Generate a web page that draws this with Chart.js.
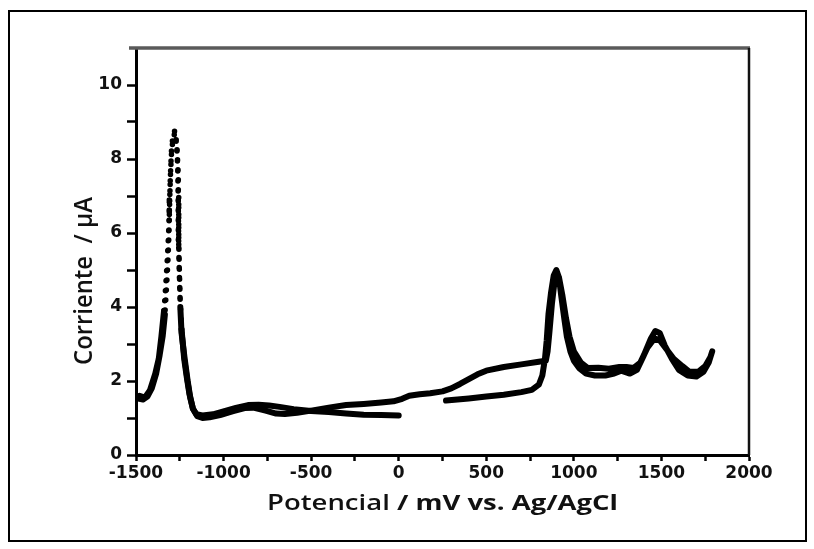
<!DOCTYPE html>
<html>
<head>
<meta charset="utf-8">
<script src="https://cdn.jsdelivr.net/npm/chart.js@4.4.1/dist/chart.umd.min.js"></script>
<style>
  html, body { margin: 0; padding: 0; background: #ffffff; }
  #wrap { width: 814px; height: 549px; position: relative; }
</style>
</head>
<body>
<div id="wrap"><canvas id="c" width="814" height="549"></canvas></div>
<script>
// Potential (mV vs Ag/AgCl) and current (µA), in sweep order
const potential = [
  270, 400, 500, 600, 700, 760, 800, 820, 835, 845, 855, 870, 885, 900, 915, 928, 945, 960, 980, 1000,
  1030, 1070, 1120, 1180, 1230, 1270, 1320, 1360, 1400, 1440, 1465, 1490, 1520, 1560, 1600, 1650, 1700, 1740, 1770, 1790,
  1780, 1750, 1710, 1660, 1620, 1570, 1530, 1490, 1460, 1420, 1380, 1340, 1300, 1260, 1200, 1140, 1080, 1040, 1000, 975,
  955, 935, 915, 905, 890, 875, 860, 850, 840, 800, 700, 600, 500, 450, 400, 350, 300, 250, 180, 120,
  60, 20, -30, -100, -200, -300, -400, -500, -580, -650, -700, -760, -830, -880, -950, -1020, -1080, -1120, -1150, -1175,
  -1195, -1210, -1225, -1240, -1248, -1253, -1256, -1257, -1258, -1260, -1263, -1268, -1278, -1290, -1298, -1303, -1307, -1310, -1313, -1318,
  -1326, -1335, -1348, -1365, -1385, -1410, -1435, -1460, -1480, -1500,
  -1480, -1450, -1420, -1390, -1370, -1355, -1340, -1330, -1320, -1312, -1308, -1304, -1298, -1290, -1280, -1268, -1262, -1259, -1257, -1255,
  -1252, -1247, -1240, -1222, -1205, -1190, -1175, -1155, -1120, -1060, -1000, -930, -860, -800, -740, -680, -600, -500, -400, -300,
  -200, -100, 0
];
const current = [
  1.47, 1.53, 1.58, 1.63, 1.70, 1.76, 1.90, 2.15, 2.60, 3.10, 3.80, 4.40, 4.85, 5.00, 4.80, 4.30, 3.70, 3.20, 2.80, 2.55,
  2.35, 2.20, 2.15, 2.15, 2.20, 2.28, 2.20, 2.30, 2.70, 3.15, 3.35, 3.30, 2.95, 2.60, 2.30, 2.15, 2.12, 2.25, 2.50, 2.80,
  2.65, 2.40, 2.25, 2.25, 2.40, 2.60, 2.85, 3.10, 3.15, 2.90, 2.50, 2.35, 2.38, 2.38, 2.33, 2.36, 2.35, 2.50, 2.80, 3.20,
  3.70, 4.30, 4.80, 4.90, 4.70, 4.10, 3.30, 2.80, 2.55, 2.52, 2.45, 2.38, 2.28, 2.18, 2.05, 1.92, 1.80, 1.72, 1.67, 1.64,
  1.60, 1.52, 1.45, 1.42, 1.38, 1.35, 1.28, 1.20, 1.14, 1.11, 1.12, 1.20, 1.28, 1.27, 1.18, 1.08, 1.02, 1.00, 1.05, 1.25,
  1.65, 2.10, 2.60, 3.40, 4.20, 5.10, 5.80, 6.30, 6.90, 7.50, 8.00, 8.45, 8.72, 8.50, 8.10, 7.60, 7.00, 6.40, 5.80, 5.20,
  4.50, 3.80, 3.20, 2.70, 2.20, 1.80, 1.58, 1.50, 1.52, 1.57,
  1.60, 1.55, 1.75, 2.20, 2.60, 3.20, 3.90, 4.60, 5.40, 6.20, 6.80, 7.50, 8.20, 8.60, 8.75, 8.40, 7.80, 7.00, 6.30, 5.60,
  4.80, 4.00, 3.30, 2.60, 2.00, 1.55, 1.25, 1.10, 1.07, 1.10, 1.18, 1.27, 1.35, 1.36, 1.34, 1.30, 1.24, 1.19, 1.16, 1.12,
  1.09, 1.08, 1.07
];
const xTicks = [-1500, -1000, -500, 0, 500, 1000, 1500, 2000];
const yTicks = [0, 2, 4, 6, 8, 10];
const xTitleA = 'Potencial ';
const xTitleB = '/ mV vs. Ag/AgCl';
const yTitle = 'Corriente  / µA';

const points = potential.map((v, i) => ({ x: v, y: current[i] }));

const framePlugin = {
  id: 'frame',
  beforeDraw(chart) {
    const ctx = chart.ctx;
    ctx.save();
    ctx.fillStyle = '#ffffff';
    ctx.fillRect(0, 0, chart.width, chart.height);
    ctx.restore();
  },
  afterDraw(chart) {
    const ctx = chart.ctx;
    const a = chart.chartArea;
    ctx.save();
    // outer border
    ctx.strokeStyle = '#000000';
    ctx.lineWidth = 2;
    ctx.strokeRect(9, 11, 797, 530);
    // top axis line (grey)
    ctx.strokeStyle = '#5a5a5a';
    ctx.lineWidth = 3.5;
    ctx.beginPath();
    ctx.moveTo(a.left - 7, a.top);
    ctx.lineTo(a.right + 1, a.top);
    ctx.stroke();
    // right axis line
    ctx.strokeStyle = '#111111';
    ctx.lineWidth = 2.5;
    ctx.beginPath();
    ctx.moveTo(a.right, a.top);
    ctx.lineTo(a.right, a.bottom);
    ctx.stroke();
    ctx.restore();

    // x title (two weights), stretched to the reference width
    ctx.save();
    ctx.fillStyle = '#111111';
    ctx.textBaseline = 'middle';
    const fA = '600 21px "Open Sans"';
    const fB = 'bold 21px "Open Sans"';
    ctx.font = fA; const wA = ctx.measureText(xTitleA).width;
    ctx.font = fB; const wB = ctx.measureText(xTitleB).width;
    const target = 351;
    const sx = target / (wA + wB);
    const cx = (a.left + a.right) / 2;
    ctx.translate(cx - target / 2, 504);
    ctx.scale(sx, 1.05);
    ctx.textAlign = 'left';
    ctx.font = fA; ctx.fillText(xTitleA, 0, 0);
    ctx.font = fB; ctx.fillText(xTitleB, wA, 0);
    ctx.restore();

    // y title
    ctx.save();
    ctx.fillStyle = '#111111';
    ctx.font = '600 22px "Open Sans"';
    const wy = ctx.measureText(yTitle).width;
    ctx.translate(85, 281);
    ctx.rotate(-Math.PI / 2);
    ctx.scale(168 / wy, 1.15);
    ctx.textAlign = 'center';
    ctx.textBaseline = 'middle';
    ctx.fillText(yTitle, 0, 0);
    ctx.restore();
  }
};

const steep = ctx => ctx.p0.parsed.x < -1150 && ctx.p0.parsed.y > 3.3 && ctx.p1.parsed.y > 3.3;

new Chart(document.getElementById('c'), {
  type: 'scatter',
  data: {
    datasets: [{
      data: points,
      showLine: true,
      borderColor: '#000000',
      backgroundColor: '#000000',
      borderWidth: 6,
      borderCapStyle: 'round',
      borderJoinStyle: 'round',
      pointRadius: 0,
      tension: 0,
      segment: {
        borderDash: ctx => steep(ctx) ? [0, 10] : undefined,
        borderWidth: ctx => steep(ctx) ? 5.5 : undefined
      }
    }]
  },
  options: {
    responsive: false,
    animation: false,
    devicePixelRatio: 1,
    layout: { padding: { left: 0, top: 48, right: 65, bottom: 0 } },
    plugins: { legend: { display: false }, tooltip: { enabled: false } },
    scales: {
      x: {
        type: 'linear',
        min: -1500,
        max: 2000,
        afterFit(s) { s.height = 94; },
        afterBuildTicks(s) {
          const t = [];
          for (let v = -1500; v <= 2000; v += 250) t.push({ value: v });
          s.ticks = t;
        },
        ticks: {
          autoSkip: false,
          maxRotation: 0,
          padding: 2,
          color: '#111111',
          font: { family: '"DejaVu Sans", sans-serif', size: 17, weight: 'bold' },
          callback: v => xTicks.includes(v) ? String(v) : ''
        },
        grid: { drawOnChartArea: false, tickLength: 6, tickWidth: 2.5, tickColor: '#000000' },
        border: { color: '#000000', width: 3 }
      },
      y: {
        type: 'linear',
        min: 0,
        max: 11,
        afterFit(s) { s.width = 136; },
        afterBuildTicks(s) {
          const t = [];
          for (let v = 0; v <= 10; v += 1) t.push({ value: v });
          s.ticks = t;
        },
        ticks: {
          autoSkip: false,
          padding: 5,
          color: '#111111',
          font: { family: '"DejaVu Sans", sans-serif', size: 17, weight: 'bold' },
          callback: v => yTicks.includes(v) ? String(v) : ''
        },
        grid: { drawOnChartArea: false, tickLength: 9, tickWidth: 2.5, tickColor: '#000000' },
        border: { color: '#000000', width: 3 }
      }
    }
  },
  plugins: [framePlugin]
});
</script>
</body>
</html>
